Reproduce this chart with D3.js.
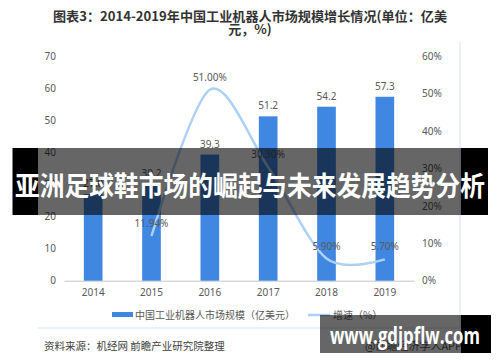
<!DOCTYPE html>
<html>
<head>
<meta charset="utf-8">
<script src="https://cdn.jsdelivr.net/npm/d3@7"></script>
<style>
  body { margin: 0; background: #fff; }
  svg { display: block; font-family: "Noto Sans CJK SC", "Noto Sans", sans-serif; }
</style>
</head>
<body>
<svg id="chart"></svg>
<script>
const W = 500;
const H = 362;

// 数据
const years = ["2014", "2015", "2016", "2017", "2018", "2019"];
const marketSize = [27.0, 30.2, 39.3, 51.2, 54.2, 57.3];
const growth = [null, 11.94, 51.0, 30.3, 5.9, 5.7];
const leftTicks = [0, 10, 20, 30, 40, 50, 60, 70];
const rightTicks = [0, 10, 20, 30, 40, 50, 60];

const svg = d3.select("#chart").attr("width", W).attr("height", H);

// 标题
svg.append("text")
  .attr("x", 250).attr("y", 21)
  .attr("text-anchor", "middle")
  .attr("font-size", 13).attr("font-weight", "bold").attr("fill", "#333")
  .attr("textLength", 394).attr("lengthAdjust", "spacingAndGlyphs")
  .text("图表3：2014-2019年中国工业机器人市场规模增长情况(单位：亿美");
svg.append("text")
  .attr("x", 250).attr("y", 34)
  .attr("text-anchor", "middle")
  .attr("font-size", 13).attr("font-weight", "bold").attr("fill", "#333")
  .text("元，%)");

// 外框线
svg.append("line")
  .attr("x1", 460).attr("x2", 460).attr("y1", 42).attr("y2", 328)
  .attr("stroke", "#e3ecf7").attr("stroke-width", 1.5);
svg.append("line")
  .attr("x1", 38).attr("x2", 460).attr("y1", 328).attr("y2", 328)
  .attr("stroke", "#e3ecf7").attr("stroke-width", 1.5);

// 比例尺
const x = d3.scaleBand().domain(years).range([64, 414]).paddingInner(0.68).paddingOuter(0.34);
const yL = d3.scaleLinear().domain([0, 70]).range([280.7, 56]);
const yR = d3.scaleLinear().domain([0, 60]).range([280.7, 56]);

// 左轴
const axisL = svg.append("g").attr("transform", "translate(56,0)")
  .call(d3.axisLeft(yL).tickValues(leftTicks).tickSize(0).tickPadding(0));
axisL.select(".domain").remove();
axisL.selectAll("text").attr("font-size", 10).attr("fill", "#595959")
  .attr("font-family", "'Noto Sans', sans-serif");

// 右轴
const axisR = svg.append("g").attr("transform", "translate(422,0)")
  .call(d3.axisRight(yR).tickValues(rightTicks).tickSize(0).tickPadding(0)
    .tickFormat(d => d + "%"));
axisR.select(".domain").remove();
axisR.selectAll("text").attr("font-size", 10).attr("fill", "#595959")
  .attr("font-family", "'Noto Sans', sans-serif");

// 底轴
const axisB = svg.append("g").attr("transform", "translate(0,280.7)")
  .call(d3.axisBottom(x).tickSize(0).tickPadding(8));
axisB.select(".domain").attr("stroke", "#d9d9d9").attr("stroke-width", 1.5);
axisB.selectAll("text").attr("font-size", 10).attr("fill", "#595959")
  .attr("font-family", "'Noto Sans', sans-serif");

// 柱子
svg.selectAll("rect.bar")
  .data(marketSize)
  .enter()
  .append("rect")
  .attr("class", "bar")
  .attr("x", (d, i) => x(years[i]))
  .attr("width", x.bandwidth())
  .attr("y", d => yL(d))
  .attr("height", d => yL(0) - yL(d))
  .attr("fill", "#3f87e0");

svg.selectAll("text.barlabel")
  .data(marketSize)
  .enter()
  .append("text")
  .attr("class", "barlabel")
  .attr("x", (d, i) => x(years[i]) + x.bandwidth() / 2)
  .attr("y", d => yL(d) - 7)
  .attr("text-anchor", "middle")
  .attr("font-size", 10).attr("fill", "#595959")
  .attr("font-family", "'Noto Sans', sans-serif")
  .text(d => d.toFixed(1));

// 增速曲线
const pts = growth.map((g, i) => ({ year: years[i], g })).filter(p => p.g !== null);
const line = d3.line()
  .x(p => x(p.year) + x.bandwidth() / 2)
  .y(p => yR(p.g))
  .curve(d3.curveCardinal.tension(0.1));

svg.append("path")
  .datum(pts)
  .attr("d", line)
  .attr("fill", "none")
  .attr("stroke", "#add0f6")
  .attr("stroke-width", 2.5);

svg.selectAll("text.glabel")
  .data(pts)
  .enter()
  .append("text")
  .attr("class", "glabel")
  .attr("x", p => x(p.year) + x.bandwidth() / 2)
  .attr("y", p => yR(p.g) - 9)
  .attr("text-anchor", "middle")
  .attr("font-size", 10).attr("fill", "#595959")
  .attr("font-family", "'Noto Sans', sans-serif")
  .text(p => p.g.toFixed(2) + "%");

// 图例
svg.append("rect")
  .attr("x", 112).attr("y", 312).attr("width", 21).attr("height", 5)
  .attr("fill", "#3f87e0");
svg.append("text")
  .attr("x", 135).attr("y", 319)
  .attr("font-size", 10).attr("fill", "#595959")
  .text("中国工业机器人市场规模（亿美元）");
svg.append("line")
  .attr("x1", 308).attr("x2", 330).attr("y1", 315).attr("y2", 315)
  .attr("stroke", "#add0f6").attr("stroke-width", 2.5);
svg.append("text")
  .attr("x", 333).attr("y", 319)
  .attr("font-size", 10).attr("fill", "#595959")
  .text("增速（%）");

// 来源
svg.append("text")
  .attr("x", 44).attr("y", 350)
  .attr("font-size", 10.5).attr("fill", "#404040")
  .text("资料来源：机经网 前瞻产业研究院整理");
svg.append("text")
  .attr("x", 365).attr("y", 350)
  .attr("font-size", 11).attr("fill", "#595959")
  .text("@前瞻经济学人APP");

// 覆盖横幅
function banner(x0, x1, xEnd, y0, y1) {
  svg.append("rect").attr("x", x0).attr("y", y0).attr("width", x1 - x0).attr("height", y1 - y0)
    .attr("fill", "#000").attr("fill-opacity", 0.6);
  svg.append("rect").attr("x", x1).attr("y", y0).attr("width", xEnd - x1).attr("height", y1 - y0)
    .attr("fill", "#000");
}
svg.append("rect").attr("x", 12.5).attr("y", 148).attr("width", 25.5).attr("height", 67)
  .attr("fill", "#000");
banner(38, 461, 488, 148, 215);
svg.append("text")
  .attr("x", 250).attr("y", 196)
  .attr("text-anchor", "middle")
  .attr("font-size", 27).attr("font-weight", "bold").attr("fill", "#fff")
  .attr("textLength", 470).attr("lengthAdjust", "spacingAndGlyphs")
  .text("亚洲足球鞋市场的崛起与未来发展趋势分析");

banner(320, 461, 491, 315, 353);
svg.append("text")
  .attr("x", 405).attr("y", 344)
  .attr("text-anchor", "middle")
  .attr("font-size", 24).attr("font-weight", "bold").attr("fill", "#fff")
  .attr("font-family", "'Open Sans', sans-serif")
  .attr("textLength", 150).attr("lengthAdjust", "spacingAndGlyphs")
  .text("www.gdjpflw.com");
</script>
</body>
</html>
